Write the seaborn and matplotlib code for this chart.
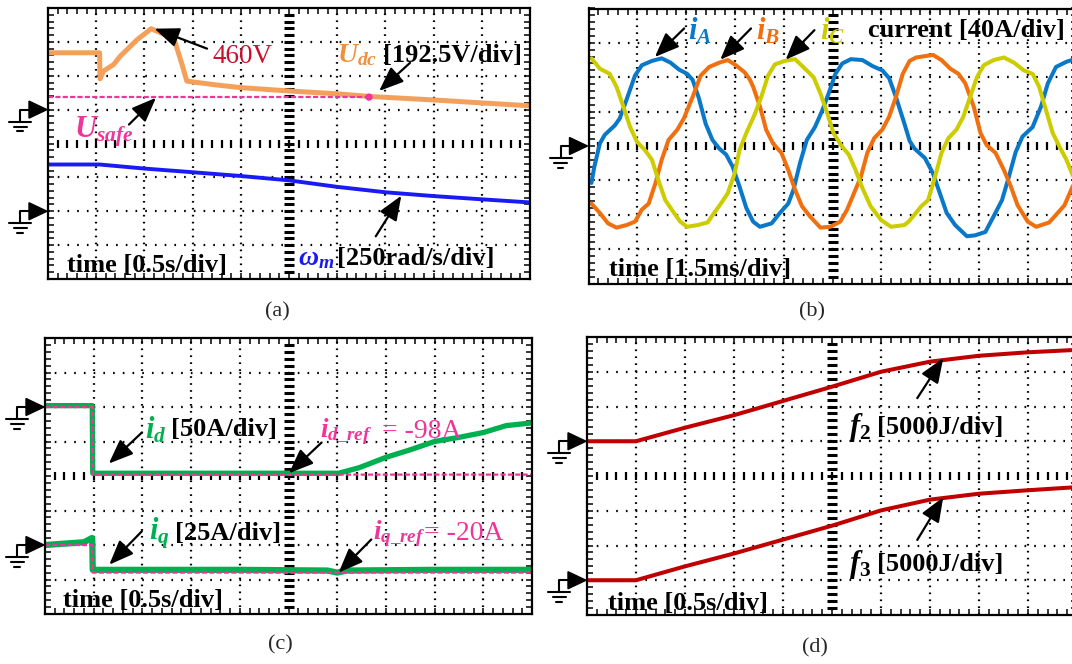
import numpy as np
import matplotlib
matplotlib.use("Agg")
import matplotlib.pyplot as plt
import seaborn as sns
from matplotlib.lines import Line2D
from matplotlib.patches import Polygon
from matplotlib.transforms import IdentityTransform

# ---- data read off the scope shots ----
# (a) DC-link voltage and speed, time in s
udc_t = [0, 0.535, 0.54, 0.575, 0.68, 0.75, 0.855, 0.925, 0.995, 1.07, 1.245, 1.315,
         1.385, 1.44, 1.75, 2.0, 2.5, 3.0, 3.33, 4.0, 4.5, 5.0]
udc_v = [323, 323, 175, 219, 256, 304, 360, 398, 427, 460, 418, 389,
         266, 162, 140, 125, 106, 90, 75, 55, 38, 22]
usafe_t = [0, 3.33]
usafe_v = [71, 71]
wm_t = [0, 0.535, 1.0, 1.5, 2.0, 2.5, 3.0, 3.5, 4.0, 4.5, 5.0]
wm = [345, 345, 315, 288, 260, 228, 180, 140, 112, 88, 65]

# (b) phase currents, time in ms, current in A
ia_t = [0.09, 0.18, 0.35, 0.5, 0.81, 0.96, 1.17, 1.43, 1.64, 1.95, 2.25, 2.52, 2.78, 3.03, 3.2,
        3.39, 3.6, 3.81, 4.02, 4.23, 4.43, 4.64, 4.85, 5.06, 5.27, 5.63, 5.88, 6.14, 6.3, 6.5,
        6.71, 6.96, 7.17, 7.38, 7.59, 7.8, 8.06, 8.42, 8.73, 9.03, 9.24, 9.45, 9.71, 9.87, 10.02,
        10.34, 10.59, 10.8, 11.01, 11.27, 11.63, 11.88, 12.2, 12.45, 12.71, 12.92, 13.13, 13.34,
        13.65, 13.91, 14.12, 14.37, 14.69, 14.94]
ia = [-43, -24, 3, 13, 24, 32, 54, 82, 94, 99, 102, 97, 89, 84, 77,
      56, 26, 7, -3, -10, -24, -47, -72, -88, -94, -90, -78, -67, -51, -20,
      7, 22, 40, 61, 84, 96, 101, 100, 93, 88, 79, 57, 26, 6, -3,
      -14, -32, -55, -78, -92, -105, -104, -100, -82, -63, -36, -7, 11,
      22, 46, 73, 92, 98, 101]
ib_t = [0.09, 0.35, 0.6, 0.86, 1.17, 1.43, 1.64, 1.85, 2.06, 2.25, 2.46, 2.73, 2.93, 3.2, 3.45,
        3.71, 4.02, 4.28, 4.53, 4.79, 4.95, 5.06, 5.27, 5.46, 5.67, 5.93, 6.14, 6.35, 6.56, 6.81,
        7.13, 7.43, 7.74, 7.95, 8.16, 8.37, 8.57, 8.78, 9.03, 9.24, 9.45, 9.66, 9.87, 10.07,
        10.59, 10.85, 11.12, 11.37, 11.58, 11.84, 12.05, 12.24, 12.51, 12.77, 12.98, 13.19,
        13.5, 13.76, 14.16, 14.42, 14.63, 14.79, 14.94]
ib = [-67, -78, -90, -95, -92, -88, -74, -67, -43, -16, 7, 19, 32, 57, 82,
      92, 97, 100, 94, 86, 78, 69, 46, 19, 3, -8, -28, -51, -70, -82,
      -95, -94, -88, -74, -55, -36, -8, 9, 19, 34, 57, 84, 99, 103,
      106, 100, 90, 84, 73, 46, 15, 1, -8, -28, -47, -69,
      -88, -94, -89, -78, -69, -55, -42]
ic_t = [0.09, 0.35, 0.65, 0.86, 1.07, 1.28, 1.49, 1.74, 1.95, 2.15, 2.36, 2.63, 2.82, 3.03, 3.35,
        3.66, 3.86, 4.07, 4.28, 4.49, 4.64, 4.85, 5.1, 5.31, 5.52, 5.73, 6.03, 6.35, 6.6, 6.92,
        7.13, 7.34, 7.53, 7.8, 8.0, 8.21, 8.42, 8.67, 8.99, 9.3, 9.71, 9.84, 10.02, 10.23, 10.44,
        10.65, 10.85, 11.06, 11.31, 11.52, 11.73, 11.94, 12.15, 12.45, 12.77, 13.08, 13.38,
        13.65, 13.85, 14.06, 14.27, 14.48, 14.69, 14.84, 14.99]
ic = [102, 90, 84, 69, 46, 22, 5, -5, -16, -40, -63, -78, -88, -94, -92,
      -89, -78, -67, -55, -32, -5, 15, 36, 57, 82, 95, 99, 101, 92, 80,
      61, 38, 15, -1, -10, -28, -49, -70, -86, -94, -92, -88, -80, -70, -63,
      -36, -8, 9, 19, 34, 57, 80, 94, 100, 103, 97, 88,
      84, 69, 42, 15, -1, -16, -30, -43]

# (c) dq currents, time in s, current in A
id_t = [0, 0.485, 0.49, 3.015, 3.225, 3.5, 3.75, 4.0, 4.25, 4.5, 4.735, 5.0]
id_a = [2, 2, -96, -96, -88, -73, -62, -50, -44, -37, -27, -23]
idref_t = [0, 0.485, 0.49, 5.0]
idref = [0, 0, -98, -98]
iq_t = [0, 0.4, 0.48, 0.485, 0.49, 2.0, 2.9, 3.0, 3.1, 4.0, 5.0]
iq_a = [0, 2, 5, 5, -18, -18, -18.5, -20, -18.5, -18, -18]
iqref_t = [0, 0.485, 0.49, 5.0]
iqref = [0, 0, -20, -20]

# (d) energy functions, time in s, energy in J
f_t = [0, 0.5, 1.0, 1.5, 2.0, 2.5, 3.0, 3.5, 4.0, 4.5, 5.0]
f2 = [0, 0, 1950, 3750, 5800, 7850, 10000, 11450, 12300, 12800, 13150]
f3 = [0, 0, 2000, 3850, 5850, 7850, 10050, 11600, 12450, 12950, 13400]

# ---- style ----
sns.set_style("white")
plt.rcParams["font.family"] = ["Liberation Serif", "DejaVu Serif"]
plt.rcParams["mathtext.fontset"] = "custom"
plt.rcParams["mathtext.it"] = "Liberation Serif:italic:bold"
plt.rcParams["mathtext.rm"] = "Liberation Serif:bold"
plt.rcParams["mathtext.bf"] = "Liberation Serif:bold"
plt.rcParams["lines.scale_dashes"] = False

W, H = 1072, 664
fig = plt.figure(figsize=(W / 100, H / 100), dpi=100)


def panel(L, R, T, B):
    ax = fig.add_axes([L / W, 1 - B / H, (R - L) / W, (B - T) / H])
    ax.set_xlim(0, 10)
    ax.set_ylim(-4, 4)
    ax.set_xticks(np.arange(0, 10.01, 0.2))
    ax.set_yticks(np.arange(-4, 4.01, 0.2))
    ax.tick_params(direction="in", length=4.5, width=1.1, colors="k",
                   top=True, right=True, bottom=True, left=True,
                   labelbottom=False, labelleft=False)
    for s in ax.spines.values():
        s.set_linewidth(1.6)
        s.set_color("k")
    for x in range(1, 10):
        if x != 5:
            ax.axvline(x, color="k", lw=1.6, dashes=(1.2, 3.8), zorder=1)
    for y in range(-3, 4):
        if y != 0:
            ax.axhline(y, color="k", lw=1.6, dashes=(1.2, 5.8), zorder=1)
    xs = np.arange(0.2, 9.9, 0.2)
    ax.plot(xs, np.zeros_like(xs), ls="none", marker="|", ms=6, mew=1.6, color="k", zorder=1)
    ys = np.arange(-3.8, 3.9, 0.2)
    ax.plot(np.full_like(ys, 5.0), ys, ls="none", marker="_", ms=7, mew=2.2, color="k", zorder=1)
    return ax


def ground(ax, level):
    x0, y0 = ax.transData.transform((0, level))
    tr = IdentityTransform()
    fig.add_artist(Polygon([[x0 - 1, y0], [x0 - 19, y0 + 8.5], [x0 - 19, y0 - 8.5]],
                           closed=True, fc="k", ec="k", transform=tr))
    fig.add_artist(Line2D([x0 - 19, x0 - 28, x0 - 28], [y0, y0, y0 - 12],
                          color="k", lw=1.5, transform=tr))
    for dy, hw in [(12, 11), (17, 6.5), (21.5, 2.8)]:
        fig.add_artist(Line2D([x0 - 28 - hw, x0 - 28 + hw], [y0 - dy, y0 - dy],
                              color="k", lw=1.5, transform=tr))


def trace(ax, t, v, t_div, v_div, zero, **kw):
    sns.lineplot(x=np.asarray(t, float) / t_div, y=zero + np.asarray(v, float) / v_div,
                 ax=ax, estimator=None, sort=False, **kw)


def pointer(ax, start, end):
    ax.annotate("", xy=end, xytext=start,
                arrowprops=dict(arrowstyle="-|>,head_length=0.75,head_width=0.3", color="k",
                                lw=1.6, mutation_scale=20, shrinkA=0, shrinkB=0))


def label(ax, x, y, s, color="k", size=19, weight="bold"):
    # text boxes include the descent, so drop them a little to centre the glyphs
    ax.text(x, y - 0.12, s, color=color, fontsize=size, fontweight=weight, va="center", ha="left")


# ---- (a) ----
ax = panel(48, 530, 8, 279)
trace(ax, udc_t, udc_v, 0.5, 192.5, 1, color="#f5a05a", linewidth=3.6)
trace(ax, usafe_t, usafe_v, 0.5, 192.5, 1, color="#f0359a", linewidth=1.6, linestyle="--")
sns.scatterplot(x=[usafe_t[-1] / 0.5], y=[1 + usafe_v[-1] / 192.5], ax=ax, color="#f0359a",
                s=28, edgecolor="none", zorder=4)
trace(ax, wm_t, wm, 0.5, 250, -2, color="#1a1af5", linewidth=2.8)
ground(ax, 1)
ground(ax, -2)
label(ax, 3.41, 2.68, "460V", color="#c8102e", size=19.5, weight="normal")
pointer(ax, (3.30, 2.80), (2.21, 3.39))
label(ax, 5.99, 2.73, r"$U_{dc}$", color="#f0903c", size=20)
label(ax, 6.94, 2.73, "[192.5V/div]")
pointer(ax, (7.51, 2.38), (6.87, 1.55))
label(ax, 0.54, 0.46, r"$U_{safe}$", color="#f0359a", size=22)
pointer(ax, (1.68, 0.56), (2.24, 1.35))
label(ax, 5.18, -3.28, r"$\omega_m$", color="#1a1af5", size=20)
label(ax, 5.99, -3.28, "[250rad/s/div]")
pointer(ax, (6.80, -2.74), (7.33, -1.54))
label(ax, 0.40, -3.47, "time [0.5s/div]")

# ---- (b) ----
ax = panel(588.5, 1076.5, 8.5, 283.5)
trace(ax, ia_t, ia, 1.5, 40, 0, color="#0a78c8", linewidth=2.9)
trace(ax, ib_t, ib, 1.5, 40, 0, color="#f07010", linewidth=2.9)
trace(ax, ic_t, ic, 1.5, 40, 0, color="#cccc00", linewidth=2.9)
ground(ax, 0)
label(ax, 2.03, 3.47, r"$i_A$", color="#0a78c8", size=22)
pointer(ax, (1.96, 3.42), (1.36, 2.59))
label(ax, 3.44, 3.47, r"$i_B$", color="#f07010", size=22)
pointer(ax, (3.33, 3.42), (2.70, 2.51))
label(ax, 4.74, 3.47, r"$i_C$", color="#cccc00", size=22)
pointer(ax, (4.63, 3.37), (4.04, 2.51))
label(ax, 5.73, 3.49, "current [40A/div]")
label(ax, 0.41, -3.48, "time [1.5ms/div]")

# ---- (c) ----
ax = panel(45, 532, 338, 614)
trace(ax, id_t, id_a, 0.5, 50, 2, color="#00b050", linewidth=3.8)
trace(ax, iq_t, iq_a, 0.5, 25, -2, color="#00b050", linewidth=4.5)
trace(ax, idref_t, idref, 0.5, 50, 2, color="#f0359a", linewidth=1.6, linestyle="--")
trace(ax, iqref_t, iqref, 0.5, 25, -2, color="#f0359a", linewidth=1.6, linestyle="--")
ground(ax, 2)
ground(ax, -2)
label(ax, 2.06, 1.46, r"$i_d$", color="#00b050", size=22)
label(ax, 2.59, 1.46, "[50A/div]")
pointer(ax, (1.99, 1.26), (1.31, 0.36))
label(ax, 5.64, 1.40, r"$i_{d\_ref}$", color="#f0359a", size=19.5)
label(ax, 6.92, 1.40, "= -98A", color="#f0359a", size=20, weight="normal")
pointer(ax, (5.68, 0.97), (5.01, 0.08))
label(ax, 2.13, -1.55, r"$i_q$", color="#00b050", size=22)
label(ax, 2.66, -1.55, "[25A/div]")
pointer(ax, (1.99, -1.60), (1.32, -2.57))
label(ax, 6.73, -1.55, r"$i_{q\_ref}$", color="#f0359a", size=19.5)
label(ax, 7.78, -1.55, "= -20A", color="#f0359a", size=20, weight="normal")
pointer(ax, (6.70, -1.84), (6.03, -2.80))
label(ax, 0.37, -3.50, "time [0.5s/div]")

# ---- (d) ----
ax = panel(587, 1077, 337, 615)
trace(ax, f_t, f2, 0.5, 5000, 1, color="#c00000", linewidth=2.9)
trace(ax, f_t, f3, 0.5, 5000, -3, color="#c00000", linewidth=2.9)
ground(ax, 1)
ground(ax, -3)
label(ax, 5.35, 1.51, r"$f_{\mathrm{2}}$", size=22)
label(ax, 5.91, 1.51, "[5000J/div]")
pointer(ax, (6.74, 2.24), (7.27, 3.39))
label(ax, 5.35, -2.44, r"$f_{\mathrm{3}}$", size=22)
label(ax, 5.91, -2.44, "[5000J/div]")
pointer(ax, (6.74, -1.84), (7.27, -0.61))
label(ax, 0.43, -3.55, "time [0.5s/div]")

# captions
for x, y, s in [(277, 312, "(a)"), (812, 312, "(b)"), (280, 645, "(c)"), (815, 648, "(d)")]:
    fig.text(x / W, 1 - y / H, s, ha="center", va="center", fontsize=16)

fig.savefig("out.png", dpi=100)
